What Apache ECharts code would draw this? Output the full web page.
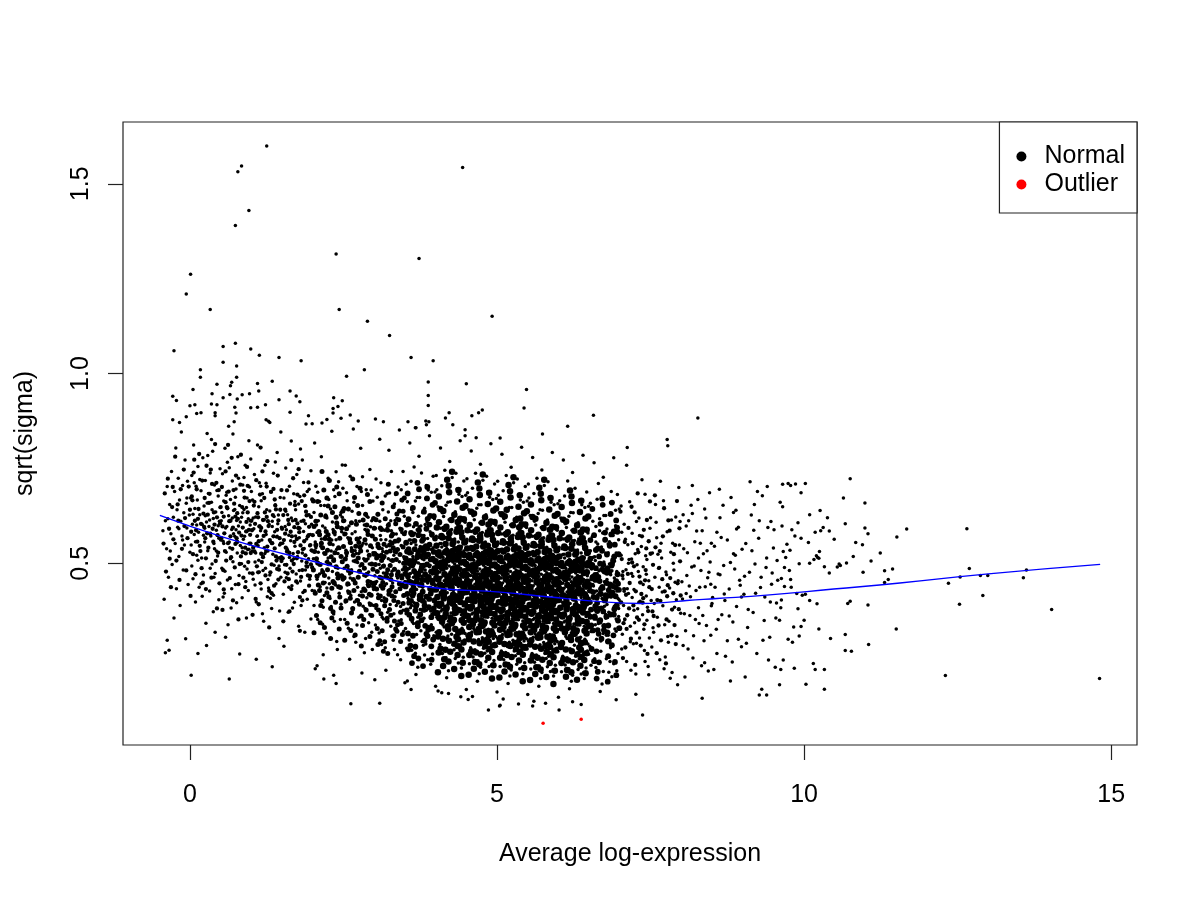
<!DOCTYPE html>
<html>
<head>
<meta charset="utf-8">
<script src="https://cdn.jsdelivr.net/npm/echarts@6/dist/echarts.min.js"></script>
<style>
html,body{margin:0;padding:0;background:#fff;}
#c{width:1200px;height:900px;}
</style>
</head>
<body>
<div id="c"></div>
<script>
// x tick labels / y tick labels
const xTicks = [0, 5, 10, 15];
const yTicks = [0.5, 1.0, 1.5];

// Normal points, flat [x, y, x, y, ...], by x band
const normalBinA = [-0.42,.405,-0.40,.612,-0.38,.538,-0.37,.702,-0.35,.463,-0.34,.271,-0.33,.655,-0.31,.578,-0.30,.742,-0.29,.497,-0.27,.621,-0.26,.356,-0.25,.689,-0.24,.552,-0.23,.804,-0.22,.433,-0.21,.641,-0.20,.595,-0.19,.724,-0.18,.518,-0.17,.667,-0.16,.389,-0.15,.611,-0.14,.846,-0.13,.572,-0.12,.705,-0.11,.482,-0.10,.633,-0.09,.548,-0.08,.772,-0.07,.301,-0.06,.658,-0.05,.593,-0.04,.716,-0.03,.444,-0.01,.627,0.00,.529,-0.44,.586,-0.36,.617,-0.32,.532,-0.18,.591,-0.12,.561,-0.05,.672];
const normalBinB = [0.01,.672,0.02,.548,0.03,.731,0.04,.603,0.05,.459,0.06,.812,0.07,.576,0.08,.644,0.09,.398,0.10,.703,0.11,.521,0.12,.667,0.13,.755,0.14,.582,0.15,.437,0.16,.628,0.18,.691,0.19,.514,0.20,.602,0.21,.778,0.22,.469,0.23,.651,0.24,.556,0.25,.718,0.26,.342,0.27,.609,0.28,.842,0.29,.533,0.30,.684,0.31,.597,0.32,.427,0.33,.738,0.34,.572,0.35,.661,0.36,.498,0.37,.795,0.38,.618,0.39,.552,0.40,.706,0.41,.473,0.42,.635,0.43,.587,0.45,.519,0.46,.677,0.47,.404,0.48,.611,0.49,.749,0.50,.561,0.03,.493,0.07,.712,0.11,.601,0.18,.446,0.22,.574,0.25,.625,0.29,.784,0.33,.487,0.36,.641,0.40,.538,0.44,.692,0.47,.566,0.05,.629,0.09,.557,0.13,.508,0.16,.721,0.2,.413,0.24,.592,0.28,.659,0.32,.614,0.35,.826,0.39,.463,0.43,.532,0.46,.599,0.49,.647,0.02,.205,0.27,.283,0.41,.318,0.38,.372];
const normalBinC = [0.51,.612,0.52,.487,0.53,.736,0.54,.558,0.55,.664,0.56,.421,0.57,.803,0.58,.593,0.59,.529,0.60,.687,0.61,.456,0.63,.625,0.64,.752,0.65,.541,0.66,.668,0.67,.382,0.68,.589,0.69,.717,0.70,.504,0.71,.639,0.72,.873,0.73,.571,0.74,.444,0.75,.696,0.76,.613,0.77,.527,0.78,.781,0.79,.598,0.80,.468,0.81,.652,0.82,.547,0.84,.621,0.85,.409,0.86,.706,0.87,.563,0.88,.642,0.89,.492,0.90,.758,0.91,.584,0.92,.356,0.93,.672,0.94,.536,0.95,.617,0.96,.823,0.97,.474,0.98,.601,0.99,.553,1.00,.689,0.52,.634,0.55,.552,0.57,.479,0.6,.597,0.63,.861,0.66,.512,0.68,.433,0.71,.578,0.74,.674,0.76,.396,0.79,.724,0.82,.609,0.84,.499,0.89,.571,0.92,.647,0.95,.428,0.97,.701,0.58,.305,0.64,.556,0.7,.841,0.75,.588,0.81,.261,0.86,.633,0.91,.452,0.96,.537,0.99,.775,0.54,.411,0.61,.766,0.69,.619,0.85,.541,0.93,.485,0.59,.679,0.73,.642,0.88,.726,0.98,.612,0.62,.338];
const normalBinD = [1.01,.532,1.02,.667,1.03,.458,1.04,.591,1.05,.734,1.06,.503,1.07,.622,1.08,.398,1.09,.571,1.10,.812,1.11,.546,1.12,.649,1.13,.477,1.14,.598,1.15,.703,1.16,.432,1.17,.561,1.18,.683,1.19,.519,1.20,.347,1.21,.615,1.22,.758,1.23,.487,1.24,.576,1.25,.641,1.26,.412,1.27,.532,1.28,.874,1.29,.602,1.30,.469,1.31,.557,1.32,.689,1.33,.381,1.34,.611,1.35,.524,1.36,.737,1.37,.495,1.38,.583,1.39,.654,1.40,.446,1.41,.569,1.42,.792,1.43,.514,1.44,.627,1.45,.302,1.46,.548,1.47,.673,1.48,.463,1.49,.595,1.03,.619,1.06,.443,1.12,.508,1.15,.586,1.18,.367,1.21,.541,1.24,.711,1.27,.457,1.3,.638,1.33,.552,1.36,.416,1.39,.767,1.42,.571,1.45,.493,1.48,.846,1.1,.572,1.16,.665,1.22,.526,1.28,.435,1.34,.597,1.46,.374,1.13,.712,1.37,.623,1.07,.527,1.19,.481,1.31,.408,1.43,.604,1.49,.517];
const normalBinE = [1.51,.553,1.52,.418,1.53,.672,1.54,.496,1.55,.597,1.56,.751,1.57,.462,1.58,.538,1.59,.628,1.60,.371,1.61,.574,1.62,.703,1.63,.487,1.64,.559,1.65,.822,1.66,.441,1.67,.612,1.68,.526,1.69,.683,1.70,.397,1.71,.545,1.72,.641,1.73,.472,1.74,.734,1.75,.518,1.76,.592,1.77,.334,1.78,.567,1.79,.676,1.80,.453,1.81,.611,1.82,.506,1.83,.772,1.84,.423,1.85,.584,1.86,.539,1.87,.651,1.88,.482,1.89,.867,1.90,.564,1.91,.405,1.92,.627,1.93,.512,1.94,.695,1.95,.458,1.96,.576,1.97,.353,1.98,.603,1.99,.532,1.53,.281,1.57,.588,1.61,.437,1.65,.619,1.69,.512,1.77,.656,1.81,.389,1.85,.713,1.89,.493,1.93,.575,1.97,.744,1.55,.476,1.59,.534,1.67,.382,1.71,.663,1.75,.448,1.79,.592,1.83,.527,1.87,.318,1.91,.689,1.95,.546,1.99,.428,1.56,.637,1.72,.572,1.8,.801,1.88,.604,1.96,.467,1.62,.515,1.78,.481,1.94,.628];
const normalBinF = [2.01,.512,2.02,.634,2.03,.427,2.04,.556,2.05,.703,2.06,.468,2.07,.581,2.08,.352,2.09,.612,2.10,.497,2.11,.663,2.12,.438,2.13,.545,2.14,.781,2.15,.483,2.16,.598,2.17,.384,2.18,.527,2.19,.652,2.20,.449,2.21,.571,2.22,.316,2.23,.619,2.24,.506,2.25,.724,2.26,.461,2.27,.553,2.28,.407,2.29,.643,2.30,.532,2.31,.848,2.32,.478,2.33,.589,2.34,.366,2.35,.511,2.36,.676,2.37,.443,2.38,.562,2.39,.294,2.40,.604,2.41,.487,2.42,.715,2.43,.421,2.44,.539,2.45,.627,2.46,.392,2.47,.518,2.48,.759,2.49,.456,2.02,.389,2.05,.541,2.08,.687,2.11,.472,2.14,.564,2.17,.259,2.2,.593,2.23,.435,2.26,.668,2.29,.498,2.32,.609,2.35,.347,2.38,.741,2.41,.526,2.44,.412,2.47,.583,2.03,.817,2.07,.458,2.12,.576,2.16,.339,2.21,.627,2.25,.514,2.3,.386,2.34,.694,2.39,.537,2.43,.467,2.48,.621,2.04,.222,2.13,.652,2.22,.503,2.31,.561,2.4,.273,2.49,.698,2.09,.529,2.27,.446,2.36,.575,2.45,.352,2.06,.601,2.19,.415,2.33,.549,2.46,.634];
const normalBinG = [2.51,.487,2.52,.612,2.53,.398,2.54,.534,2.55,.686,2.56,.443,2.57,.567,2.58,.329,2.59,.598,2.60,.472,2.61,.729,2.62,.415,2.63,.541,2.64,.637,2.65,.376,2.66,.506,2.67,.661,2.68,.454,2.69,.583,2.70,.292,2.71,.526,2.72,.702,2.73,.437,2.74,.562,2.75,.358,2.76,.611,2.77,.493,2.78,.803,2.79,.425,2.80,.547,2.81,.652,2.82,.387,2.83,.512,2.84,.264,2.85,.589,2.86,.466,2.87,.694,2.88,.409,2.89,.532,2.90,.621,2.91,.343,2.92,.498,2.93,.747,2.94,.452,2.95,.573,2.96,.318,2.97,.541,2.98,.664,2.99,.431,2.52,.352,2.55,.519,2.58,.643,2.61,.461,2.64,.578,2.67,.307,2.7,.612,2.73,.502,2.76,.416,2.79,.689,2.82,.553,2.85,.381,2.88,.624,2.91,.477,2.94,.596,2.97,.273,2.53,.758,2.57,.427,2.62,.553,2.66,.854,2.71,.403,2.75,.526,2.8,.211,2.84,.601,2.89,.444,2.93,.365,2.98,.528,2.54,.578,2.63,.483,2.72,.337,2.81,.728,2.9,.512,2.99,.389,2.56,.665,2.68,.398,2.77,.567,2.86,.302,2.95,.693,2.59,.444,2.74,.875,2.87,.551,2.6,.247,2.83,.468,2.96,.612,2.69,.533,2.92,.395];
const normalBinH = [3.01,.467,3.02,.592,3.03,.381,3.04,.523,3.05,.674,3.06,.418,3.07,.549,3.08,.316,3.09,.611,3.10,.487,3.11,.712,3.12,.402,3.13,.538,3.14,.641,3.15,.353,3.16,.495,3.17,.587,3.18,.277,3.19,.562,3.20,.446,3.21,.683,3.22,.371,3.23,.512,3.24,.605,3.25,.428,3.26,.558,3.27,.334,3.28,.742,3.29,.479,3.30,.573,3.31,.297,3.32,.521,3.33,.656,3.34,.412,3.35,.536,3.36,.389,3.37,.618,3.38,.461,3.39,.701,3.40,.348,3.41,.504,3.42,.592,3.43,.246,3.44,.547,3.45,.439,3.46,.665,3.47,.376,3.48,.517,3.49,.624,3.02,.337,3.04,.452,3.06,.628,3.08,.497,3.1,.573,3.12,.286,3.14,.531,3.16,.409,3.18,.677,3.2,.544,3.22,.463,3.24,.798,3.26,.391,3.28,.586,3.3,.448,3.32,.367,3.34,.613,3.36,.528,3.38,.259,3.4,.561,3.42,.432,3.44,.694,3.46,.483,3.48,.321,3.03,.722,3.07,.411,3.11,.562,3.15,.474,3.19,.218,3.23,.635,3.27,.508,3.31,.413,3.35,.681,3.39,.557,3.43,.386,3.47,.742,3.05,.543,3.13,.358,3.21,.592,3.29,.308,3.37,.466,3.45,.581,3.09,.827,3.25,.685,3.41,.851,3.17,.441,3.33,.273,3.49,.417,3.01,.193,3.27,.612,3.44,.351,3.12,.524,3.36,.577];
const normalBinI = [3.50,.452,3.51,.583,3.52,.367,3.53,.514,3.54,.662,3.55,.408,3.56,.536,3.57,.298,3.58,.601,3.59,.473,3.60,.716,3.61,.389,3.62,.527,3.63,.634,3.64,.341,3.65,.482,3.66,.579,3.67,.263,3.68,.548,3.69,.431,3.70,.673,3.71,.358,3.72,.501,3.73,.596,3.74,.417,3.75,.544,3.76,.322,3.77,.738,3.78,.466,3.79,.562,3.80,.284,3.81,.509,3.82,.645,3.83,.398,3.84,.523,3.85,.376,3.86,.609,3.87,.448,3.88,.693,3.89,.333,3.90,.491,3.91,.583,3.92,.234,3.93,.536,3.94,.427,3.95,.656,3.96,.364,3.97,.505,3.98,.617,3.99,.442,3.51,.328,3.53,.441,3.55,.617,3.57,.486,3.59,.561,3.61,.271,3.63,.518,3.65,.396,3.67,.664,3.69,.532,3.71,.451,3.73,.782,3.75,.378,3.77,.574,3.79,.437,3.81,.355,3.83,.602,3.85,.515,3.87,.246,3.89,.549,3.91,.421,3.93,.687,3.95,.472,3.97,.309,3.99,.566,3.52,.708,3.56,.404,3.6,.552,3.64,.463,3.68,.207,3.72,.624,3.76,.497,3.8,.402,3.84,.671,3.88,.546,3.92,.374,3.96,.729,3.54,.531,3.62,.346,3.7,.588,3.78,.294,3.86,.457,3.94,.572,3.58,.817,3.74,.673,3.9,.836,3.66,.429,3.82,.258,3.98,.405,3.5,.185,3.76,.598,3.93,.338,3.63,.511,3.87,.565,3.55,.472,3.59,.383,3.64,.596,3.69,.312,3.74,.478,3.79,.634,3.84,.287,3.89,.617,3.94,.366,3.99,.688,3.57,.561,3.67,.468,3.77,.409,3.87,.524,3.97,.452,3.61,.642,3.71,.226,3.81,.573,3.91,.495,3.53,.276,3.73,.359,3.83,.482,3.95,.261,3.65,.754,3.85,.705,3.6,.167,3.78,.512,3.96,.541];
const normalBinJ = [4.00,.443,4.01,.571,4.02,.358,4.03,.502,4.04,.649,4.05,.397,4.06,.527,4.07,.286,4.08,.592,4.09,.463,4.10,.704,4.11,.378,4.12,.516,4.13,.623,4.14,.332,4.15,.474,4.16,.568,4.17,.251,4.18,.539,4.19,.422,4.20,.661,4.21,.347,4.22,.493,4.23,.587,4.24,.408,4.25,.534,4.26,.313,4.27,.726,4.28,.457,4.29,.553,4.30,.272,4.31,.498,4.32,.636,4.33,.389,4.34,.514,4.35,.367,4.36,.598,4.37,.439,4.38,.682,4.39,.324,4.40,.481,4.41,.574,4.42,.224,4.43,.527,4.44,.418,4.45,.645,4.46,.355,4.47,.496,4.48,.608,4.49,.433,4.01,.318,4.03,.433,4.05,.606,4.07,.477,4.09,.552,4.11,.262,4.13,.509,4.15,.387,4.17,.653,4.19,.521,4.21,.443,4.23,.768,4.25,.369,4.27,.562,4.29,.428,4.31,.346,4.33,.593,4.35,.506,4.37,.237,4.39,.538,4.41,.412,4.43,.676,4.45,.463,4.47,.298,4.49,.557,4.02,.694,4.06,.395,4.1,.543,4.14,.454,4.18,.198,4.22,.615,4.26,.488,4.3,.393,4.34,.662,4.38,.537,4.42,.364,4.46,.717,4.04,.522,4.12,.337,4.2,.579,4.28,.285,4.36,.448,4.44,.563,4.08,.804,4.24,.662,4.4,.823,4.16,.419,4.32,.249,4.48,.396,4.0,.176,4.26,.589,4.43,.329,4.13,.502,4.37,.556,4.05,.463,4.09,.374,4.14,.587,4.19,.303,4.24,.469,4.29,.625,4.34,.278,4.39,.608,4.44,.357,4.49,.679,4.07,.552,4.17,.459,4.27,.401,4.37,.515,4.47,.443,4.11,.633,4.21,.217,4.31,.564,4.41,.486,4.03,.267,4.23,.351,4.33,.473,4.45,.252,4.15,.745,4.35,.696,4.1,.159,4.28,.503,4.46,.532,4.02,.481,4.06,.568,4.1,.421,4.15,.532,4.2,.391,4.25,.476,4.3,.541,4.35,.417,4.4,.503,4.45,.388,4.04,.413,4.18,.487,4.32,.452,4.46,.474,4.08,.356,4.22,.529,4.36,.382,4.42,.544,4.12,.594,4.26,.447,4.38,.612,4.48,.315,4.01,.731,4.2,.308,4.33,.737,4.47,.612];
const normalBinK = [4.50,.438,4.51,.563,4.52,.349,4.53,.494,4.54,.641,4.55,.388,4.56,.519,4.57,.277,4.58,.584,4.59,.455,4.60,.698,4.61,.369,4.62,.508,4.63,.615,4.64,.323,4.65,.466,4.66,.561,4.67,.242,4.68,.531,4.69,.414,4.70,.654,4.71,.338,4.72,.485,4.73,.579,4.74,.399,4.75,.526,4.76,.304,4.77,.719,4.78,.449,4.79,.545,4.80,.263,4.81,.489,4.82,.628,4.83,.381,4.84,.506,4.85,.358,4.86,.591,4.87,.431,4.88,.674,4.89,.315,4.90,.473,4.91,.566,4.92,.216,4.93,.519,4.94,.409,4.95,.637,4.96,.346,4.97,.488,4.98,.601,4.99,.425,4.51,.309,4.53,.424,4.55,.598,4.57,.468,4.59,.544,4.61,.253,4.63,.501,4.65,.378,4.67,.645,4.69,.513,4.71,.434,4.73,.761,4.75,.361,4.77,.554,4.79,.419,4.81,.337,4.83,.585,4.85,.497,4.87,.228,4.89,.529,4.91,.403,4.93,.668,4.95,.454,4.97,.289,4.99,.548,4.52,.686,4.56,.386,4.6,.535,4.64,.445,4.68,.189,4.72,.607,4.76,.479,4.8,.384,4.84,.654,4.88,.528,4.92,.355,4.96,.709,4.54,.513,4.62,.328,4.7,.571,4.78,.276,4.86,.439,4.94,.555,4.58,.796,4.74,.654,4.9,.815,4.66,.411,4.82,.241,4.98,.387,4.5,.167,4.76,.581,4.93,.321,4.63,.494,4.87,.548,4.55,.455,4.59,.366,4.64,.579,4.69,.295,4.74,.461,4.79,.617,4.84,.269,4.89,.601,4.94,.348,4.99,.671,4.57,.544,4.67,.451,4.77,.393,4.87,.507,4.97,.435,4.61,.625,4.71,.209,4.81,.556,4.91,.478,4.53,.259,4.73,.343,4.83,.465,4.95,.244,4.65,.737,4.85,.688,4.6,.149,4.78,.495,4.96,.524,4.52,.472,4.56,.559,4.6,.413,4.65,.524,4.7,.383,4.75,.468,4.8,.533,4.85,.409,4.9,.495,4.95,.381,4.54,.405,4.68,.479,4.82,.444,4.96,.466,4.58,.348,4.72,.521,4.86,.374,4.92,.536,4.62,.586,4.76,.439,4.88,.604,4.98,.307,4.51,.723,4.7,.299,4.83,.729,4.97,.604,4.53,.361,4.57,.418,4.62,.291,4.66,.353,4.71,.472,4.76,.331,4.81,.403,4.86,.326,4.91,.284,4.96,.417,4.55,.235,4.64,.272,4.73,.226,4.82,.298,4.91,.232,4.99,.281,4.59,.319,4.79,.364,4.94,.302,4.69,.243];
const normalBinL = [5.00,.431,5.01,.556,5.02,.341,5.03,.487,5.04,.633,5.05,.381,5.06,.512,5.07,.269,5.08,.577,5.09,.448,5.10,.691,5.11,.362,5.12,.501,5.13,.608,5.14,.316,5.15,.459,5.16,.554,5.17,.235,5.18,.524,5.19,.407,5.20,.647,5.21,.331,5.22,.478,5.23,.572,5.24,.392,5.25,.519,5.26,.297,5.27,.712,5.28,.442,5.29,.538,5.30,.256,5.31,.482,5.32,.621,5.33,.374,5.34,.499,5.35,.351,5.36,.584,5.37,.424,5.38,.667,5.39,.308,5.40,.466,5.41,.559,5.42,.209,5.43,.512,5.44,.402,5.45,.631,5.46,.339,5.47,.481,5.48,.594,5.49,.418,5.01,.302,5.03,.417,5.05,.591,5.07,.461,5.09,.537,5.11,.246,5.13,.494,5.15,.371,5.17,.638,5.19,.506,5.21,.427,5.23,.753,5.25,.354,5.27,.547,5.29,.412,5.31,.331,5.33,.578,5.35,.491,5.37,.222,5.39,.522,5.41,.396,5.43,.661,5.45,.447,5.47,.283,5.49,.541,5.02,.679,5.06,.379,5.1,.528,5.14,.438,5.18,.183,5.22,.601,5.26,.472,5.3,.377,5.34,.647,5.38,.521,5.42,.348,5.46,.702,5.04,.506,5.12,.321,5.2,.564,5.28,.269,5.36,.432,5.44,.548,5.08,.787,5.24,.647,5.4,.806,5.16,.404,5.32,.234,5.48,.381,5.0,.161,5.26,.574,5.43,.314,5.13,.487,5.37,.541,5.05,.448,5.09,.359,5.14,.572,5.19,.289,5.24,.454,5.29,.611,5.34,.262,5.39,.594,5.44,.342,5.49,.664,5.07,.537,5.17,.444,5.27,.386,5.37,.501,5.47,.428,5.11,.618,5.21,.203,5.31,.549,5.41,.471,5.03,.252,5.23,.336,5.33,.458,5.45,.238,5.15,.731,5.35,.681,5.1,.142,5.28,.488,5.46,.517,5.02,.465,5.06,.552,5.1,.406,5.15,.517,5.2,.376,5.25,.461,5.3,.526,5.35,.402,5.4,.488,5.45,.374,5.04,.398,5.18,.472,5.32,.437,5.46,.459,5.08,.341,5.22,.514,5.36,.367,5.42,.529,5.12,.579,5.26,.432,5.38,.597,5.48,.301,5.01,.716,5.2,.292,5.33,.722,5.47,.597,5.03,.354,5.07,.411,5.12,.284,5.16,.346,5.21,.465,5.26,.324,5.31,.396,5.36,.319,5.41,.277,5.46,.411,5.05,.228,5.14,.265,5.23,.219,5.32,.291,5.41,.226,5.49,.274,5.09,.312,5.29,.357,5.44,.295,5.19,.236,5.04,.429,5.11,.392,5.18,.351,5.25,.404,5.32,.369,5.39,.428,5.46,.386,5.06,.303,5.2,.441,5.34,.312,5.48,.453];
const normalBinM = [5.50,.424,5.51,.549,5.52,.334,5.53,.481,5.54,.626,5.55,.374,5.56,.505,5.57,.262,5.58,.571,5.59,.441,5.60,.684,5.61,.355,5.62,.494,5.63,.601,5.64,.309,5.65,.452,5.66,.547,5.67,.229,5.68,.517,5.69,.401,5.70,.641,5.71,.324,5.72,.471,5.73,.566,5.74,.385,5.75,.512,5.76,.291,5.77,.705,5.78,.435,5.79,.531,5.80,.249,5.81,.475,5.82,.614,5.83,.367,5.84,.492,5.85,.344,5.86,.577,5.87,.417,5.88,.661,5.89,.301,5.90,.459,5.91,.552,5.92,.203,5.93,.505,5.94,.395,5.95,.624,5.96,.332,5.97,.474,5.98,.587,5.99,.411,5.51,.295,5.53,.41,5.55,.584,5.57,.454,5.59,.531,5.61,.239,5.63,.487,5.65,.364,5.67,.631,5.69,.499,5.71,.421,5.73,.746,5.75,.347,5.77,.541,5.79,.405,5.81,.324,5.83,.571,5.85,.484,5.87,.215,5.89,.515,5.91,.389,5.93,.654,5.95,.441,5.97,.276,5.99,.534,5.52,.672,5.56,.372,5.6,.521,5.64,.431,5.68,.176,5.72,.594,5.76,.465,5.8,.371,5.84,.641,5.88,.514,5.92,.341,5.96,.695,5.54,.499,5.62,.314,5.7,.557,5.78,.262,5.86,.425,5.94,.541,5.58,.779,5.74,.64,5.9,.792,5.66,.397,5.82,.227,5.98,.374,5.5,.154,5.76,.567,5.93,.307,5.63,.48,5.87,.534,5.55,.441,5.59,.352,5.64,.565,5.69,.282,5.74,.447,5.79,.604,5.84,.255,5.89,.587,5.94,.335,5.99,.657,5.57,.53,5.67,.437,5.77,.379,5.87,.494,5.97,.421,5.61,.611,5.71,.196,5.81,.542,5.91,.464,5.53,.245,5.73,.329,5.83,.451,5.95,.231,5.65,.724,5.85,.674,5.6,.136,5.78,.481,5.96,.51,5.52,.458,5.56,.545,5.6,.399,5.65,.51,5.7,.369,5.75,.454,5.8,.519,5.85,.395,5.9,.481,5.95,.367,5.54,.391,5.68,.465,5.82,.43,5.96,.452,5.58,.334,5.72,.507,5.86,.36,5.92,.522,5.62,.572,5.76,.425,5.88,.59,5.98,.294,5.51,.709,5.7,.285,5.83,.715,5.97,.59,5.53,.347,5.57,.404,5.62,.277,5.66,.339,5.71,.458,5.76,.317,5.81,.389,5.86,.312,5.91,.27,5.96,.404,5.55,.221,5.64,.258,5.73,.212,5.82,.284,5.91,.219,5.99,.267,5.59,.305,5.79,.35,5.94,.288,5.69,.229,5.54,.422,5.61,.385,5.68,.344,5.75,.397,5.82,.362,5.89,.421,5.96,.379];
const normalBinN = [6.00,.417,6.01,.542,6.02,.327,6.03,.474,6.04,.619,6.05,.367,6.06,.498,6.07,.255,6.08,.564,6.09,.434,6.10,.677,6.11,.348,6.12,.487,6.13,.594,6.14,.302,6.15,.445,6.16,.54,6.17,.222,6.18,.51,6.19,.394,6.20,.634,6.21,.317,6.22,.464,6.23,.559,6.24,.378,6.25,.505,6.26,.284,6.27,.698,6.28,.428,6.29,.524,6.30,.242,6.31,.468,6.32,.607,6.33,.36,6.34,.485,6.35,.337,6.36,.57,6.37,.41,6.38,.654,6.39,.294,6.40,.452,6.41,.545,6.42,.196,6.43,.498,6.44,.388,6.45,.617,6.46,.325,6.47,.467,6.48,.58,6.49,.404,6.01,.288,6.03,.403,6.05,.577,6.07,.447,6.09,.524,6.11,.232,6.13,.48,6.15,.357,6.17,.624,6.19,.492,6.21,.414,6.23,.739,6.25,.34,6.27,.534,6.29,.398,6.31,.317,6.33,.564,6.35,.477,6.37,.208,6.39,.508,6.41,.382,6.43,.647,6.45,.434,6.47,.269,6.49,.527,6.02,.665,6.06,.365,6.1,.514,6.14,.424,6.18,.169,6.22,.587,6.26,.458,6.3,.364,6.34,.634,6.38,.507,6.42,.334,6.46,.688,6.04,.492,6.12,.307,6.2,.55,6.28,.255,6.36,.418,6.44,.534,6.08,.772,6.24,.633,6.4,.785,6.16,.39,6.32,.22,6.48,.367,6.0,.147,6.26,.56,6.43,.3,6.13,.473,6.37,.527,6.05,.434,6.09,.345,6.14,.558,6.19,.275,6.24,.44,6.29,.597,6.34,.248,6.39,.58,6.44,.328,6.49,.65,6.07,.523,6.17,.43,6.27,.372,6.37,.487,6.47,.414,6.11,.604,6.21,.189,6.31,.535,6.41,.457,6.03,.238,6.23,.322,6.33,.444,6.45,.224,6.15,.717,6.35,.667,6.28,.474,6.46,.503,6.02,.451,6.06,.538,6.1,.392,6.15,.503,6.2,.362,6.25,.447,6.3,.512,6.35,.388,6.4,.474,6.45,.36,6.04,.384,6.18,.458,6.32,.423,6.46,.445,6.08,.327,6.22,.5,6.36,.353,6.42,.515,6.12,.565,6.26,.418,6.38,.583,6.48,.287,6.03,.34,6.07,.397,6.12,.27,6.16,.332,6.21,.451,6.26,.31,6.31,.382,6.36,.305,6.41,.263,6.46,.397,6.05,.214,6.14,.251,6.23,.205,6.32,.277,6.41,.212,6.49,.26];
const normalBinO = [6.50,.408,6.52,.533,6.53,.32,6.54,.466,6.56,.611,6.57,.36,6.58,.49,6.59,.248,6.61,.556,6.62,.427,6.63,.669,6.65,.341,6.66,.48,6.67,.586,6.69,.295,6.70,.438,6.71,.532,6.73,.215,6.74,.503,6.75,.387,6.77,.626,6.78,.31,6.79,.457,6.81,.551,6.82,.371,6.83,.498,6.85,.277,6.86,.689,6.87,.421,6.89,.517,6.90,.235,6.91,.461,6.93,.599,6.94,.353,6.95,.478,6.97,.33,6.98,.562,6.99,.403,6.51,.281,6.53,.396,6.55,.57,6.57,.44,6.59,.517,6.61,.225,6.63,.473,6.65,.35,6.67,.617,6.69,.485,6.71,.407,6.73,.727,6.75,.333,6.77,.527,6.79,.391,6.81,.31,6.83,.557,6.85,.47,6.87,.201,6.89,.501,6.91,.375,6.93,.64,6.95,.427,6.97,.262,6.99,.52,6.52,.658,6.56,.358,6.6,.507,6.64,.417,6.68,.162,6.72,.58,6.76,.451,6.8,.357,6.84,.627,6.88,.5,6.92,.327,6.96,.681,6.54,.485,6.62,.3,6.7,.543,6.78,.248,6.86,.411,6.94,.527,6.58,.765,6.74,.626,6.9,.778,6.66,.383,6.82,.213,6.98,.36,6.55,.427,6.6,.338,6.64,.551,6.69,.268,6.74,.433,6.79,.59,6.84,.241,6.89,.573,6.94,.321,6.99,.643,6.57,.516,6.67,.423,6.77,.365,6.87,.48,6.97,.407,6.61,.597,6.71,.182,6.81,.528,6.91,.45,6.53,.231,6.73,.315,6.83,.437,6.95,.217,6.65,.71,6.85,.66,6.56,.444,6.63,.385,6.7,.497,6.77,.355,6.84,.44,6.91,.505,6.98,.381,6.59,.377,6.75,.451,6.92,.416];
const normalBinP = [7.01,.396,7.02,.521,7.04,.313,7.05,.459,7.07,.603,7.08,.353,7.10,.483,7.11,.241,7.13,.549,7.14,.42,7.16,.662,7.17,.334,7.19,.473,7.20,.579,7.22,.288,7.23,.431,7.25,.525,7.26,.208,7.28,.496,7.29,.38,7.31,.619,7.32,.303,7.34,.45,7.35,.544,7.37,.364,7.38,.491,7.40,.27,7.41,.682,7.43,.414,7.44,.51,7.46,.228,7.47,.454,7.49,.592,7.03,.274,7.06,.389,7.09,.563,7.12,.433,7.15,.51,7.18,.218,7.21,.466,7.24,.343,7.27,.61,7.3,.478,7.33,.4,7.36,.72,7.39,.326,7.42,.52,7.45,.384,7.48,.303,7.02,.651,7.08,.351,7.14,.5,7.2,.41,7.26,.155,7.32,.573,7.38,.444,7.44,.35,7.5,.62,7.05,.478,7.17,.293,7.29,.536,7.41,.241,7.11,.758,7.23,.376,7.47,.206,7.12,.805,7.07,.426,7.19,.511,7.31,.397,7.43,.471,7.03,.582,7.27,.289];
const normalBinQ = [7.51,.402,7.53,.527,7.55,.318,7.57,.463,7.59,.608,7.61,.358,7.63,.487,7.65,.246,7.67,.553,7.69,.424,7.71,.665,7.73,.338,7.75,.477,7.77,.583,7.79,.292,7.81,.435,7.83,.529,7.85,.212,7.87,.5,7.89,.384,7.91,.622,7.93,.307,7.95,.454,7.97,.548,7.99,.368,7.52,.279,7.56,.394,7.6,.567,7.64,.437,7.68,.514,7.72,.222,7.76,.47,7.8,.347,7.84,.614,7.88,.482,7.92,.404,7.96,.7,7.54,.33,7.62,.524,7.7,.388,7.78,.307,7.86,.553,7.94,.18,7.58,.655,7.74,.253,7.9,.45,7.77,.826,7.78,.81,7.66,.716,7.82,.197,7.98,.61];
const normalBinR = [8.02,.406,8.04,.538,8.07,.322,8.09,.468,8.12,.612,8.14,.362,8.17,.49,8.19,.25,8.22,.557,8.24,.428,8.27,.668,8.29,.341,8.32,.481,8.34,.586,8.37,.296,8.39,.438,8.42,.533,8.44,.216,8.47,.503,8.49,.388,8.03,.283,8.08,.598,8.13,.44,8.18,.705,8.23,.352,8.28,.514,8.33,.23,8.38,.643,8.43,.462,8.48,.31,8.06,.2,8.16,.653,8.36,.525,8.46,.686];
const normalBinS = [8.51,.41,8.54,.545,8.57,.326,8.6,.472,8.63,.62,8.66,.364,8.69,.494,8.72,.255,8.75,.561,8.78,.432,8.81,.673,8.84,.345,8.87,.485,8.9,.59,8.93,.3,8.96,.442,8.99,.537,8.53,.22,8.62,.695,8.71,.402,8.8,.19,8.89,.64,8.98,.28,8.58,.582,8.85,.525];
const normalBinT = [9.02,.418,9.05,.552,9.08,.331,9.11,.476,9.14,.627,9.17,.37,9.2,.498,9.23,.262,9.26,.566,9.29,.436,9.32,.678,9.35,.349,9.38,.489,9.41,.594,9.44,.305,9.47,.445,9.5,.54,9.53,.226,9.56,.507,9.04,.2,9.19,.655,9.31,.168,9.46,.61,9.12,.715,9.4,.702,9.55,.395];
const normalExtraA = [-0.43,.552,-0.41,.684,-0.39,.478,-0.36,.723,-0.34,.591,-0.31,.437,-0.29,.648,-0.27,.563,-0.24,.781,-0.22,.507,-0.19,.612,-0.17,.456,-0.15,.695,-0.13,.538,-0.1,.747,-0.08,.619,-0.06,.481,-0.04,.566,-0.02,.702,0.0,.641,-0.33,.512,-0.2,.655,-0.09,.598,-0.28,.701,0.02,.583,0.03,.676,0.05,.524,0.06,.739,0.08,.612,0.09,.471,0.11,.695,0.12,.557,0.14,.643,0.15,.788,0.17,.532,0.18,.604,0.2,.718,0.21,.449,0.23,.596,0.24,.672,0.26,.513,0.27,.757,0.29,.628,0.3,.541,0.32,.683,0.33,.578,0.35,.462,0.36,.709,0.38,.557,0.39,.634,0.41,.814,0.42,.506,0.44,.621,0.45,.574,0.47,.693,0.48,.447,0.5,.648,0.04,.666,0.1,.587,0.16,.546,0.22,.631,0.28,.579,0.34,.747,0.4,.602,0.46,.528,0.07,.773,0.19,.487,0.31,.659,0.43,.712,0.13,.617,0.25,.566,0.37,.591,0.49,.605,0.01,.414,0.26,.432,0.44,.381];
const normalExtraB = [0.51,.566,0.52,.701,0.54,.482,0.55,.623,0.56,.579,0.58,.742,0.59,.507,0.61,.645,0.62,.553,0.63,.689,0.65,.461,0.66,.612,0.68,.778,0.69,.538,0.7,.594,0.72,.657,0.73,.489,0.75,.731,0.76,.566,0.77,.632,0.79,.445,0.8,.581,0.82,.707,0.83,.518,0.85,.648,0.86,.594,0.87,.462,0.89,.673,0.9,.541,0.92,.609,0.93,.754,0.95,.503,0.96,.588,0.97,.664,0.99,.527,1.0,.612,0.53,.597,0.57,.532,0.6,.648,0.64,.611,0.67,.516,0.71,.693,0.74,.551,0.78,.617,0.81,.498,0.84,.573,0.88,.691,0.91,.526,0.94,.634,0.98,.575,0.55,.431,0.62,.812,0.7,.402,0.77,.556,0.83,.786,0.9,.437,0.97,.552,0.58,.661,0.66,.571,0.74,.623,0.86,.529,0.94,.704,0.53,.377,0.79,.352,0.92,.584];
const normalExtraC = [1.01,.587,1.02,.473,1.04,.652,1.05,.531,1.06,.604,1.08,.719,1.09,.492,1.11,.621,1.12,.558,1.14,.681,1.15,.447,1.16,.593,1.18,.742,1.19,.516,1.2,.572,1.22,.634,1.23,.468,1.25,.702,1.26,.544,1.27,.611,1.29,.427,1.3,.561,1.32,.688,1.33,.497,1.35,.627,1.36,.571,1.37,.441,1.39,.652,1.4,.518,1.42,.588,1.43,.731,1.45,.483,1.46,.566,1.47,.641,1.49,.506,1.5,.591,1.03,.541,1.07,.406,1.1,.632,1.13,.597,1.17,.503,1.21,.672,1.24,.532,1.28,.598,1.31,.476,1.34,.553,1.38,.668,1.41,.507,1.44,.613,1.48,.552,1.05,.662,1.12,.392,1.19,.614,1.26,.769,1.33,.421,1.4,.642,1.47,.514,1.08,.551,1.16,.525,1.23,.584,1.36,.696,1.44,.457,1.02,.364,1.29,.331,1.42,.485,1.15,.805,1.38,.539,1.11,.476,1.25,.622,1.49,.693];
const normalExtraD = [1.51,.513,1.52,.627,1.54,.452,1.55,.578,1.56,.541,1.58,.692,1.59,.473,1.61,.603,1.62,.527,1.63,.657,1.65,.432,1.66,.571,1.68,.724,1.69,.498,1.7,.556,1.72,.614,1.73,.452,1.75,.681,1.76,.529,1.77,.593,1.79,.411,1.8,.547,1.82,.664,1.83,.482,1.85,.612,1.86,.558,1.87,.427,1.89,.636,1.9,.502,1.92,.571,1.93,.713,1.95,.466,1.96,.548,1.97,.622,1.99,.489,2.0,.574,1.53,.561,1.57,.496,1.6,.614,1.64,.583,1.67,.478,1.71,.653,1.74,.513,1.78,.582,1.81,.464,1.84,.537,1.88,.651,1.91,.491,1.94,.596,1.98,.534,1.55,.641,1.62,.373,1.7,.595,1.77,.748,1.83,.402,1.9,.626,1.97,.497,1.58,.531,1.66,.507,1.74,.564,1.86,.679,1.94,.441,1.52,.347,1.79,.322,1.92,.468,1.65,.772,1.88,.521,1.61,.458,1.75,.605,1.99,.668];
const normalExtraE = [2.01,.482,2.02,.597,2.04,.421,2.05,.548,2.06,.512,2.08,.663,2.09,.443,2.11,.575,2.12,.497,2.13,.627,2.15,.401,2.16,.541,2.18,.693,2.19,.468,2.2,.526,2.22,.584,2.23,.422,2.25,.651,2.26,.499,2.27,.563,2.29,.381,2.3,.517,2.32,.634,2.33,.452,2.35,.582,2.36,.528,2.37,.397,2.39,.606,2.4,.472,2.42,.541,2.43,.683,2.45,.436,2.46,.518,2.47,.592,2.49,.459,2.5,.544,2.03,.531,2.07,.466,2.1,.584,2.14,.553,2.17,.448,2.21,.623,2.24,.483,2.28,.552,2.31,.434,2.34,.507,2.38,.621,2.41,.461,2.44,.566,2.48,.504,2.05,.611,2.12,.343,2.2,.565,2.27,.718,2.33,.372,2.4,.596,2.47,.467,2.08,.501,2.16,.477,2.24,.534,2.36,.649,2.44,.411,2.02,.317,2.29,.302,2.42,.438,2.15,.742,2.38,.491,2.11,.428,2.25,.575,2.49,.638,2.06,.362,2.19,.331,2.31,.356,2.43,.327,2.13,.389,2.26,.412,2.35,.448,2.46,.382,2.01,.664,2.23,.672,2.39,.701,2.5,.612];
const normalExtraF = [2.51,.462,2.52,.577,2.54,.401,2.55,.528,2.56,.492,2.58,.643,2.59,.423,2.61,.555,2.62,.477,2.63,.607,2.65,.381,2.66,.521,2.68,.673,2.69,.448,2.7,.506,2.72,.564,2.73,.402,2.75,.631,2.76,.479,2.77,.543,2.79,.361,2.8,.497,2.82,.614,2.83,.432,2.85,.562,2.86,.508,2.87,.377,2.89,.586,2.9,.452,2.92,.521,2.93,.663,2.95,.416,2.96,.498,2.97,.572,2.99,.439,3.0,.524,2.53,.511,2.57,.446,2.6,.564,2.64,.533,2.67,.428,2.71,.603,2.74,.463,2.78,.532,2.81,.414,2.84,.487,2.88,.601,2.91,.441,2.94,.546,2.98,.484,2.55,.591,2.62,.323,2.7,.545,2.77,.698,2.83,.352,2.9,.576,2.97,.447,2.58,.481,2.66,.457,2.74,.514,2.86,.629,2.94,.391,2.52,.297,2.79,.282,2.92,.418,2.65,.722,2.88,.471,2.61,.408,2.75,.555,2.99,.618,2.56,.342,2.69,.311,2.81,.336,2.93,.307,2.63,.369,2.76,.392,2.85,.428,2.96,.362,2.51,.644,2.73,.652,2.89,.681,3.0,.592];
const normalExtraG = [3.01,.448,3.02,.563,3.03,.389,3.04,.514,3.05,.478,3.06,.629,3.07,.409,3.08,.541,3.09,.463,3.1,.593,3.11,.367,3.12,.507,3.13,.659,3.14,.434,3.15,.492,3.16,.55,3.17,.388,3.18,.617,3.19,.465,3.2,.529,3.21,.347,3.22,.483,3.23,.6,3.24,.418,3.25,.548,3.26,.494,3.27,.363,3.28,.572,3.29,.438,3.3,.507,3.31,.649,3.32,.402,3.33,.484,3.34,.558,3.35,.425,3.36,.51,3.37,.321,3.38,.536,3.39,.397,3.4,.615,3.41,.446,3.42,.523,3.43,.371,3.44,.589,3.45,.461,3.46,.312,3.47,.543,3.48,.415,3.49,.672,3.5,.489,3.02,.497,3.04,.432,3.06,.55,3.08,.519,3.1,.414,3.12,.589,3.14,.449,3.16,.518,3.18,.4,3.2,.473,3.22,.587,3.24,.427,3.26,.532,3.28,.47,3.3,.577,3.32,.309,3.34,.531,3.36,.684,3.38,.338,3.4,.562,3.42,.433,3.44,.467,3.46,.443,3.48,.5,3.03,.615,3.07,.377,3.11,.441,3.15,.268,3.19,.404,3.23,.708,3.27,.457,3.31,.541,3.35,.604,3.39,.477,3.43,.294,3.47,.637,3.05,.328,3.09,.296,3.13,.322,3.17,.293,3.21,.355,3.25,.378,3.29,.414,3.33,.348,3.37,.63,3.41,.638,3.45,.667,3.49,.578,3.01,.526,3.14,.514,3.26,.429,3.38,.471,3.47,.394,3.06,.286,3.22,.262,3.35,.327,3.44,.341,3.12,.461,3.29,.553];
const normalExtraH = [3.51,.439,3.52,.554,3.53,.376,3.54,.501,3.55,.465,3.56,.616,3.57,.396,3.58,.528,3.59,.45,3.6,.58,3.61,.354,3.62,.494,3.63,.646,3.64,.421,3.65,.479,3.66,.537,3.67,.375,3.68,.604,3.69,.452,3.7,.516,3.71,.334,3.72,.47,3.73,.587,3.74,.405,3.75,.535,3.76,.481,3.77,.35,3.78,.559,3.79,.425,3.8,.494,3.81,.636,3.82,.389,3.83,.471,3.84,.545,3.85,.412,3.86,.497,3.87,.308,3.88,.523,3.89,.384,3.9,.602,3.91,.433,3.92,.51,3.93,.358,3.94,.576,3.95,.448,3.96,.299,3.97,.53,3.98,.402,3.99,.659,4.0,.476,3.52,.484,3.54,.419,3.56,.537,3.58,.506,3.6,.401,3.62,.576,3.64,.436,3.66,.505,3.68,.387,3.7,.46,3.72,.574,3.74,.414,3.76,.519,3.78,.457,3.8,.564,3.82,.296,3.84,.518,3.86,.671,3.88,.325,3.9,.549,3.92,.42,3.94,.454,3.96,.43,3.98,.487,3.53,.602,3.57,.364,3.61,.428,3.65,.255,3.69,.391,3.73,.695,3.77,.444,3.81,.528,3.85,.591,3.89,.464,3.93,.281,3.97,.624,3.55,.315,3.59,.283,3.63,.309,3.67,.28,3.71,.342,3.75,.365,3.79,.401,3.83,.335,3.87,.617,3.91,.625,3.95,.654,3.99,.565,3.51,.513,3.64,.501,3.76,.416,3.88,.458,3.97,.381,3.56,.273,3.72,.249,3.85,.314,3.94,.328,3.62,.448,3.79,.54,3.505,.472,3.535,.531,3.565,.452,3.595,.497,3.625,.415,3.655,.559,3.685,.473,3.715,.524,3.745,.443,3.775,.489,3.805,.377,3.835,.456,3.865,.539,3.895,.406,3.925,.478,3.955,.512,3.985,.37,3.545,.684,3.705,.712,3.865,.701,3.615,.237,3.795,.229,3.935,.246];
const normalExtraI = [4.005,.431,4.015,.546,4.025,.368,4.035,.493,4.045,.457,4.055,.608,4.065,.388,4.075,.52,4.085,.442,4.095,.572,4.105,.346,4.115,.486,4.125,.638,4.135,.413,4.145,.471,4.155,.529,4.165,.367,4.175,.596,4.185,.444,4.195,.508,4.205,.326,4.215,.462,4.225,.579,4.235,.397,4.245,.527,4.255,.473,4.265,.342,4.275,.551,4.285,.417,4.295,.486,4.305,.628,4.315,.381,4.325,.463,4.335,.537,4.345,.404,4.355,.489,4.365,.3,4.375,.515,4.385,.376,4.395,.594,4.405,.425,4.415,.502,4.425,.35,4.435,.568,4.445,.44,4.455,.291,4.465,.522,4.475,.394,4.485,.651,4.495,.468,4.01,.476,4.03,.411,4.05,.529,4.07,.498,4.09,.393,4.11,.568,4.13,.428,4.15,.497,4.17,.379,4.19,.452,4.21,.566,4.23,.406,4.25,.511,4.27,.449,4.29,.556,4.31,.288,4.33,.51,4.35,.663,4.37,.317,4.39,.541,4.41,.412,4.43,.446,4.45,.422,4.47,.479,4.02,.594,4.06,.356,4.1,.42,4.14,.247,4.18,.383,4.22,.687,4.26,.436,4.3,.52,4.34,.583,4.38,.456,4.42,.273,4.46,.616,4.04,.307,4.08,.275,4.12,.301,4.16,.272,4.2,.334,4.24,.357,4.28,.393,4.32,.327,4.36,.609,4.4,.617,4.44,.646,4.48,.557,4.0,.505,4.13,.493,4.25,.408,4.37,.45,4.46,.373,4.05,.265,4.21,.241,4.34,.306,4.43,.32,4.11,.44,4.28,.532,4.012,.461,4.042,.523,4.072,.444,4.102,.489,4.132,.407,4.162,.551,4.192,.465,4.222,.516,4.252,.435,4.282,.481,4.312,.369,4.342,.448,4.372,.531,4.402,.398,4.432,.47,4.462,.504,4.492,.362,4.052,.676,4.212,.704,4.372,.693,4.122,.229,4.302,.221,4.442,.238,4.018,.392,4.058,.318,4.098,.502,4.138,.357,4.178,.532,4.218,.296,4.258,.614,4.298,.351,4.338,.477,4.378,.281,4.418,.582,4.458,.343,4.488,.426,4.078,.643,4.238,.267,4.398,.526,4.148,.591,4.318,.412,4.468,.555,4.188,.72,4.358,.258,4.038,.213,4.268,.741,4.418,.203];
const normalExtraJ = [4.505,.424,4.515,.539,4.525,.361,4.535,.486,4.545,.45,4.555,.601,4.565,.381,4.575,.513,4.585,.435,4.595,.565,4.605,.339,4.615,.479,4.625,.631,4.635,.406,4.645,.464,4.655,.522,4.665,.36,4.675,.589,4.685,.437,4.695,.501,4.705,.319,4.715,.455,4.725,.572,4.735,.39,4.745,.52,4.755,.466,4.765,.335,4.775,.544,4.785,.41,4.795,.479,4.805,.621,4.815,.374,4.825,.456,4.835,.53,4.845,.397,4.855,.482,4.865,.293,4.875,.508,4.885,.369,4.895,.587,4.905,.418,4.915,.495,4.925,.343,4.935,.561,4.945,.433,4.955,.284,4.965,.515,4.975,.387,4.985,.644,4.995,.461,4.51,.469,4.53,.404,4.55,.522,4.57,.491,4.59,.386,4.61,.561,4.63,.421,4.65,.49,4.67,.372,4.69,.445,4.71,.559,4.73,.399,4.75,.504,4.77,.442,4.79,.549,4.81,.281,4.83,.503,4.85,.656,4.87,.31,4.89,.534,4.91,.405,4.93,.439,4.95,.415,4.97,.472,4.52,.587,4.56,.349,4.6,.413,4.64,.24,4.68,.376,4.72,.68,4.76,.429,4.8,.513,4.84,.576,4.88,.449,4.92,.266,4.96,.609,4.54,.3,4.58,.268,4.62,.294,4.66,.265,4.7,.327,4.74,.35,4.78,.386,4.82,.32,4.86,.602,4.9,.61,4.94,.639,4.98,.55,4.5,.498,4.63,.486,4.75,.401,4.87,.443,4.96,.366,4.55,.258,4.71,.234,4.84,.299,4.93,.313,4.61,.433,4.78,.525,4.512,.454,4.542,.516,4.572,.437,4.602,.482,4.632,.4,4.662,.544,4.692,.458,4.722,.509,4.752,.428,4.782,.474,4.812,.362,4.842,.441,4.872,.524,4.902,.391,4.932,.463,4.962,.497,4.992,.355,4.552,.669,4.712,.697,4.872,.686,4.622,.222,4.802,.214,4.942,.231,4.518,.385,4.558,.311,4.598,.495,4.638,.35,4.678,.525,4.718,.289,4.758,.607,4.798,.344,4.838,.47,4.878,.274,4.918,.575,4.958,.336,4.988,.419,4.578,.636,4.738,.26,4.898,.519,4.648,.584,4.818,.405,4.968,.548,4.688,.713,4.858,.251,4.538,.206,4.768,.734,4.918,.196,4.528,.447,4.588,.402,4.648,.468,4.708,.413,4.768,.371,4.828,.418,4.888,.382,4.948,.459,4.548,.332,4.668,.318,4.788,.296,4.908,.321,4.608,.538,4.728,.564,4.848,.546,4.968,.528];
const normalExtraK = [5.005,.417,5.015,.532,5.025,.354,5.035,.479,5.045,.443,5.055,.594,5.065,.374,5.075,.506,5.085,.428,5.095,.558,5.105,.332,5.115,.472,5.125,.624,5.135,.399,5.145,.457,5.155,.515,5.165,.353,5.175,.582,5.185,.43,5.195,.494,5.205,.312,5.215,.448,5.225,.565,5.235,.383,5.245,.513,5.255,.459,5.265,.328,5.275,.537,5.285,.403,5.295,.472,5.305,.614,5.315,.367,5.325,.449,5.335,.523,5.345,.39,5.355,.475,5.365,.286,5.375,.501,5.385,.362,5.395,.58,5.405,.411,5.415,.488,5.425,.336,5.435,.554,5.445,.426,5.455,.277,5.465,.508,5.475,.38,5.485,.637,5.495,.454,5.01,.462,5.03,.397,5.05,.515,5.07,.484,5.09,.379,5.11,.554,5.13,.414,5.15,.483,5.17,.365,5.19,.438,5.21,.552,5.23,.392,5.25,.497,5.27,.435,5.29,.542,5.31,.274,5.33,.496,5.35,.649,5.37,.303,5.39,.527,5.41,.398,5.43,.432,5.45,.408,5.47,.465,5.02,.58,5.06,.342,5.1,.406,5.14,.233,5.18,.369,5.22,.673,5.26,.422,5.3,.506,5.34,.569,5.38,.442,5.42,.259,5.46,.602,5.04,.293,5.08,.261,5.12,.287,5.16,.258,5.2,.32,5.24,.343,5.28,.379,5.32,.313,5.36,.595,5.4,.603,5.44,.632,5.48,.543,5.0,.491,5.13,.479,5.25,.394,5.37,.436,5.46,.359,5.05,.251,5.21,.227,5.34,.292,5.43,.306,5.11,.426,5.28,.518,5.012,.447,5.042,.509,5.072,.43,5.102,.475,5.132,.393,5.162,.537,5.192,.451,5.222,.502,5.252,.421,5.282,.467,5.312,.355,5.342,.434,5.372,.517,5.402,.384,5.432,.456,5.462,.49,5.492,.348,5.052,.662,5.212,.69,5.372,.679,5.122,.215,5.302,.207,5.442,.224,5.018,.378,5.058,.304,5.098,.488,5.138,.343,5.178,.518,5.218,.282,5.258,.6,5.298,.337,5.338,.463,5.378,.267,5.418,.568,5.458,.329,5.488,.412,5.078,.629,5.238,.253,5.398,.512,5.148,.577,5.318,.398,5.468,.541,5.188,.706,5.358,.244,5.038,.199,5.268,.727,5.418,.189,5.028,.44,5.088,.395,5.148,.461,5.208,.406,5.268,.364,5.328,.411,5.388,.375,5.448,.452,5.048,.325,5.168,.311,5.288,.289,5.408,.314,5.108,.531,5.228,.557,5.348,.539,5.468,.521,5.068,.358,5.188,.284,5.308,.442,5.428,.279,5.158,.641,5.378,.618];
const normalExtraL = [5.505,.41,5.515,.525,5.525,.347,5.535,.472,5.545,.436,5.555,.587,5.565,.367,5.575,.499,5.585,.421,5.595,.551,5.605,.325,5.615,.465,5.625,.617,5.635,.392,5.645,.45,5.655,.508,5.665,.346,5.675,.575,5.685,.423,5.695,.487,5.705,.305,5.715,.441,5.725,.558,5.735,.376,5.745,.506,5.755,.452,5.765,.321,5.775,.53,5.785,.396,5.795,.465,5.805,.607,5.815,.36,5.825,.442,5.835,.516,5.845,.383,5.855,.468,5.865,.279,5.875,.494,5.885,.355,5.895,.573,5.905,.404,5.915,.481,5.925,.329,5.935,.547,5.945,.419,5.955,.27,5.965,.501,5.975,.373,5.985,.63,5.995,.447,5.51,.455,5.53,.39,5.55,.508,5.57,.477,5.59,.372,5.61,.547,5.63,.407,5.65,.476,5.67,.358,5.69,.431,5.71,.545,5.73,.385,5.75,.49,5.77,.428,5.79,.535,5.81,.267,5.83,.489,5.85,.642,5.87,.296,5.89,.52,5.91,.391,5.93,.425,5.95,.401,5.97,.458,5.52,.573,5.56,.335,5.6,.399,5.64,.226,5.68,.362,5.72,.666,5.76,.415,5.8,.499,5.84,.562,5.88,.435,5.92,.252,5.96,.595,5.54,.286,5.58,.254,5.62,.28,5.66,.251,5.7,.313,5.74,.336,5.78,.372,5.82,.306,5.86,.588,5.9,.596,5.94,.625,5.98,.536,5.5,.484,5.63,.472,5.75,.387,5.87,.429,5.96,.352,5.55,.244,5.71,.22,5.84,.285,5.93,.299,5.61,.419,5.78,.511,5.512,.44,5.542,.502,5.572,.423,5.602,.468,5.632,.386,5.662,.53,5.692,.444,5.722,.495,5.752,.414,5.782,.46,5.812,.348,5.842,.427,5.872,.51,5.902,.377,5.932,.449,5.962,.483,5.992,.341,5.552,.655,5.712,.683,5.872,.672,5.622,.208,5.802,.2,5.942,.217,5.518,.371,5.558,.297,5.598,.481,5.638,.336,5.678,.511,5.718,.275,5.758,.593,5.798,.33,5.838,.456,5.878,.26,5.918,.561,5.958,.322,5.988,.405,5.578,.622,5.738,.246,5.898,.505,5.648,.57,5.818,.391,5.968,.534,5.688,.699,5.858,.237,5.538,.192,5.768,.72,5.918,.182,5.528,.433,5.588,.388,5.648,.454,5.708,.399,5.768,.357,5.828,.404,5.888,.368,5.948,.445,5.548,.318,5.668,.304,5.788,.282,5.908,.307,5.608,.524,5.728,.55,5.848,.532,5.968,.514];
const normalExtraM = [6.005,.403,6.015,.518,6.025,.34,6.035,.465,6.045,.429,6.055,.58,6.065,.36,6.075,.492,6.085,.414,6.095,.544,6.105,.318,6.115,.458,6.125,.61,6.135,.385,6.145,.443,6.155,.501,6.165,.339,6.175,.568,6.185,.416,6.195,.48,6.205,.298,6.215,.434,6.225,.551,6.235,.369,6.245,.499,6.255,.445,6.265,.314,6.275,.523,6.285,.389,6.295,.458,6.305,.6,6.315,.353,6.325,.435,6.335,.509,6.345,.376,6.355,.461,6.365,.272,6.375,.487,6.385,.348,6.395,.566,6.405,.397,6.415,.474,6.425,.322,6.435,.54,6.445,.412,6.455,.263,6.465,.494,6.475,.366,6.485,.623,6.495,.44,6.01,.448,6.03,.383,6.05,.501,6.07,.47,6.09,.365,6.11,.54,6.13,.4,6.15,.469,6.17,.351,6.19,.424,6.21,.538,6.23,.378,6.25,.483,6.27,.421,6.29,.528,6.31,.26,6.33,.482,6.35,.635,6.37,.289,6.39,.513,6.41,.384,6.43,.418,6.45,.394,6.47,.451,6.02,.566,6.06,.328,6.1,.392,6.14,.219,6.18,.355,6.22,.659,6.26,.408,6.3,.492,6.34,.555,6.38,.428,6.42,.245,6.46,.588,6.04,.279,6.08,.247,6.12,.273,6.16,.244,6.2,.306,6.24,.329,6.28,.365,6.32,.299,6.36,.581,6.4,.589,6.44,.618,6.48,.529,6.0,.477,6.13,.465,6.25,.38,6.37,.422,6.46,.345,6.05,.237,6.21,.213,6.34,.278,6.43,.292,6.11,.412,6.28,.504,6.012,.433,6.042,.495,6.072,.416,6.102,.461,6.132,.379,6.162,.523,6.192,.437,6.222,.488,6.252,.407,6.282,.453,6.312,.341,6.342,.42,6.372,.503,6.402,.37,6.432,.442,6.462,.476,6.492,.334,6.052,.648,6.212,.676,6.372,.665,6.122,.201,6.302,.193,6.442,.21,6.018,.364,6.058,.29,6.098,.474,6.138,.329,6.178,.504,6.218,.268,6.258,.586,6.298,.323,6.338,.449,6.378,.253,6.418,.554,6.458,.315,6.488,.398,6.078,.615,6.238,.239,6.398,.498,6.148,.563,6.318,.384,6.468,.527,6.188,.692,6.358,.23];
const normalExtraN = [6.505,.398,6.52,.512,6.535,.336,6.55,.46,6.565,.424,6.58,.574,6.595,.356,6.61,.487,6.625,.41,6.64,.539,6.655,.314,6.67,.453,6.685,.604,6.7,.381,6.715,.438,6.73,.496,6.745,.335,6.76,.562,6.775,.411,6.79,.475,6.805,.294,6.82,.429,6.835,.546,6.85,.365,6.865,.494,6.88,.44,6.895,.31,6.91,.518,6.925,.384,6.94,.453,6.955,.594,6.97,.349,6.985,.43,6.5,.503,6.51,.443,6.53,.378,6.55,.496,6.57,.465,6.59,.36,6.61,.535,6.63,.395,6.65,.464,6.67,.346,6.69,.419,6.71,.533,6.73,.373,6.75,.478,6.77,.416,6.79,.523,6.81,.255,6.83,.477,6.85,.63,6.87,.284,6.89,.508,6.91,.379,6.93,.413,6.95,.389,6.97,.446,6.52,.561,6.56,.323,6.6,.387,6.64,.214,6.68,.35,6.72,.654,6.76,.403,6.8,.487,6.84,.55,6.88,.423,6.92,.24,6.96,.583,6.54,.274,6.58,.242,6.62,.268,6.66,.239,6.7,.301,6.74,.324,6.78,.36,6.82,.294,6.86,.576,6.9,.584,6.94,.613,6.98,.524,6.512,.428,6.542,.49,6.572,.411,6.602,.456,6.632,.374,6.662,.518,6.692,.432,6.722,.483,6.752,.402,6.782,.448,6.812,.336,6.842,.415,6.872,.498,6.902,.365,6.932,.437,6.962,.471,6.992,.329,6.552,.643,6.712,.671,6.872,.66,6.622,.196,6.802,.188,6.942,.205,6.518,.359,6.598,.469,6.678,.499,6.758,.581,6.838,.444,6.918,.549,6.638,.324,6.798,.318];
const normalExtraO = [7.02,.397,7.04,.468,7.06,.342,7.08,.556,7.1,.417,7.12,.363,7.14,.593,7.16,.448,7.18,.301,7.2,.502,7.22,.389,7.24,.634,7.26,.426,7.28,.357,7.3,.529,7.32,.465,7.34,.283,7.36,.571,7.38,.408,7.4,.339,7.42,.482,7.44,.614,7.46,.374,7.48,.437,7.5,.525,7.03,.511,7.09,.278,7.15,.381,7.21,.553,7.27,.317,7.33,.449,7.39,.588,7.45,.261,7.01,.636,7.13,.472,7.25,.232,7.37,.396,7.49,.663,7.07,.432,7.19,.649,7.31,.351,7.43,.539,7.11,.327,7.23,.492,7.35,.419,7.47,.558,7.05,.25,7.29,.684,7.41,.455,7.52,.432,7.55,.361,7.58,.542,7.61,.403,7.64,.488,7.67,.297,7.7,.571,7.73,.426,7.76,.352,7.79,.613,7.82,.461,7.85,.378,7.88,.524,7.91,.287,7.94,.447,7.97,.592,7.99,.415,7.54,.496,7.6,.263,7.66,.401,7.72,.645,7.78,.442,7.84,.31,7.9,.548,7.96,.379,7.57,.679,7.63,.336,7.69,.458,7.75,.236,7.81,.586,7.87,.421,7.93,.664,7.53,.373,7.65,.532,7.77,.413,7.89,.337,7.98,.505];
const normalExtraP = [8.01,.451,8.05,.367,8.1,.528,8.15,.412,8.2,.309,8.25,.585,8.3,.437,8.35,.362,8.4,.619,8.45,.476,8.5,.394,8.03,.628,8.11,.274,8.21,.493,8.31,.553,8.41,.336,8.49,.553,8.08,.42,8.18,.631,8.28,.383,8.38,.238,8.48,.445,8.55,.437,8.6,.352,8.65,.568,8.7,.419,8.75,.296,8.8,.502,8.85,.634,8.9,.386,8.95,.455,8.58,.262,8.68,.653,8.78,.361,8.88,.521,8.98,.411,8.63,.47,8.83,.24,8.93,.595,9.03,.466,9.09,.378,9.15,.533,9.21,.421,9.27,.612,9.33,.297,9.39,.514,9.45,.398,9.51,.588,9.57,.455,9.06,.289,9.18,.587,9.3,.463,9.42,.245,9.54,.356,9.24,.689,9.48,.474,9.36,.411];
const normalSparseHigh = [1.25,1.60,0.84,1.547,0.78,1.532,0.96,1.43,0.74,1.39,4.44,1.543,0.01,1.262,-0.06,1.21,0.33,1.169,2.38,1.315,3.73,1.303,2.43,1.169,2.89,1.138,3.25,1.10,4.92,1.151,-0.26,1.06,0.74,1.08,0.54,1.071,0.99,1.065,1.13,1.048,1.45,1.042,1.81,1.034,3.6,1.042,3.96,1.034,4.5,.973,2.84,1.01,2.55,.993,0.54,1.03,0.17,1.01,0.17,.99,0.76,1.02,0.76,.99,3.88,.978,3.88,.942,3.88,.916,4.76,.904,4.7,.897,5.48,.958,5.44,.909,6.57,.89,8.27,.883,6.15,.861,4.22,.897,4.16,.883,4.59,.889,4.28,.865,4.48,.852,4.48,.836,4.66,.831,5.05,.83,5.74,.841,3.55,.873,3.68,.857,3.84,.875,3.89,.873,0.05,.958,-0.28,.94,-0.22,.929,0,.915,0.08,.918,-0.06,.886,-0.28,.878,-0.17,.871,0.44,.972,0.36,.947,0.54,.936,0.35,.92,0.44,.918,0.18,.897,0.41,.897,0.41,.889,0.11,.895,0.66,.968,0.68,.977,0.65,.945,0.77,.933,0.73,.911,0.75,.896,0.85,.944,0.97,.947,1.1,.974,1.12,.954,0.99,.91,1.1,.911,1.23,.918,1.34,.98,1.45,.931,1.63,.954,1.73,.941,1.79,.926,1.63,.898,1.24,.878,1.3,.871,1.93,.889,1.99,.868,2.15,.87,2.23,.879,2.34,.936,2.48,.928,2.41,.913,2.33,.908,2.33,.896,2.46,.882,2.61,.891,3.02,.88,3.15,.873,3.67,.857,3.85,.865];
const normalSparseLow = [3.09,.131,2.62,.13,6.01,.113,6.94,.14,7.37,.1,8.34,.144,9.27,.153,9.39,.153,5.35,.129,5.58,.124,5.79,.131,6.23,.135,6.37,.128,5.05,.126,0.64,.195,-0.4,.264,-0.37,.297,0.13,.262,1.34,.227,1.08,.247,4.86,.113,5.04,.124,4.41,.148,4.53,.141,4.04,.163,4.21,.157,3.54,.19,2.38,.183,2.34,.205,2.18,.195,2.07,.23];
const normalSparseRight = [10.75,.723,10.99,.659,10.64,.672,11.67,.59,11.51,.569,12.65,.591,12.69,.486,11.24,.527,11.09,.506,11.31,.48,11.44,.485,11.37,.457,11.31,.449,12.35,.447,12.54,.464,12.87,.468,12.99,.468,13.62,.482,13.57,.462,12.91,.415,12.53,.392,14.03,.378,11.5,.327,11.05,.286,12.3,.204,14.81,.196,11.04,.39,10.67,.312,10.67,.27,10.77,.268,10.43,.302,10.24,.327,10.75,.40,10.71,.394,10.21,.393,10.09,.402,9.97,.416,10.02,.418,10.96,.476,10.41,.474,10.69,.501,10.54,.49,10.57,.498,10.59,.494,10.8,.518,10.33,.491,10.09,.50,9.92,.499,10.16,.51,10.2,.52,10.22,.515,10.24,.513,10.25,.531,9.77,.534,9.66,.531,9.68,.489,9.76,.481,9.63,.46,9.78,.457,9.68,.439,9.79,.437,9.63,.403,9.62,.383,9.6,.35,9.83,.332,9.95,.333,10.0,.35,9.92,.308,9.74,.30,9.81,.292,9.66,.245,9.62,.22,9.84,.223,10.15,.236,10.18,.22,10.33,.22,10.03,.181,10.33,.168,9.6,.18,10.99,.593,11.04,.578,10.84,.555,10.95,.549,10.49,.563,10.67,.604,10.41,.585,10.31,.594,10.27,.586,10.18,.582,9.72,.55,9.85,.572,9.9,.607,9.95,.566,10.07,.555,9.64,.598,9.8,.588,10.38,.62,10.26,.639,10.09,.628,9.65,.649,9.61,.661,9.95,.686,9.65,.708,9.74,.71,9.78,.705,9.86,.709,10.02,.71,9.7,.515,9.88,.42,9.9,.38];

// Outlier points
const outlierPoints = [5.75,.078,6.37,.089];

// Trend line
const trendX = [-0.49,0.54,1.62,2.71,3.52,4.12,5.05,5.86,6.68,7.33,7.76,8.09,8.58,9.39,10.48,11.56,13.0,14.82];
const trendY = [0.626,0.569,0.521,0.477,0.448,0.433,0.424,0.411,0.399,0.394,0.397,0.402,0.407,0.416,0.432,0.448,0.472,0.497];

function pairs(a){const out=[];for(let i=0;i+1<a.length;i+=2)out.push([a[i],a[i+1]]);return out;}
const flat = arrs => [].concat(...arrs.map(pairs));
// groups by local density of the cloud (drawn with increasing dot size so overlaps read as solid)
const normalGroup1 = flat([normalBinA,normalBinB,normalBinC,normalBinD,normalBinE,normalBinF,normalBinG,normalBinH,normalBinI,normalBinJ,normalBinK,normalBinL,normalBinM,normalBinN,normalBinO,normalBinP,normalBinQ,normalBinR,normalBinS,normalBinT,normalExtraP,normalSparseHigh,normalSparseLow,normalSparseRight]);
const normalGroup2 = flat([normalExtraA,normalExtraB,normalExtraC,normalExtraD,normalExtraO]);
const normalGroup3 = flat([normalExtraE,normalExtraF,normalExtraG]);
const normalGroup4 = flat([normalExtraH,normalExtraN]);
const normalGroup5 = flat([normalExtraI,normalExtraJ,normalExtraK,normalExtraL,normalExtraM]);
const outlierData = pairs(outlierPoints);
const trendData = trendX.map((x,i)=>[x,trendY[i]]);

const FONT = 'Liberation Sans, Arial, Helvetica, sans-serif';
const FS = 25;
const normalSeries = (data, size) => ({name:'Normal',type:'scatter',data,symbol:'circle',symbolSize:size,itemStyle:{color:'#000',opacity:1},silent:true,z:2});
const chart = echarts.init(document.getElementById('c'), null, {renderer:'canvas'});
chart.setOption({
  animation:false,
  backgroundColor:'#fff',
  textStyle:{fontFamily:FONT},
  grid:{left:123,right:63,top:122,bottom:155,show:true,borderColor:'#222',borderWidth:1.2,backgroundColor:'transparent'},
  legend:{
    data:[{name:'Normal',icon:'circle'},{name:'Outlier',icon:'circle'}],
    orient:'vertical', right:63, top:122,
    borderColor:'#222', borderWidth:1.2, borderRadius:0,
    padding:[22,12,16,17], itemGap:3, itemWidth:26, itemHeight:10,
    textStyle:{fontSize:FS, color:'#000', fontFamily:FONT, padding:[0,0,0,5], lineHeight:25},
    selectedMode:false, backgroundColor:'#fff'
  },
  xAxis:{
    type:'value', min:-1.09, max:15.42,
    name:'Average log-expression', nameLocation:'middle', nameGap:97,
    nameTextStyle:{fontSize:FS,color:'#000',fontFamily:FONT},
    axisLine:{show:false,onZero:false},
    axisTick:{show:true,customValues:xTicks,length:15,lineStyle:{color:'#222',width:1.2}},
    axisLabel:{customValues:xTicks,fontSize:FS,color:'#000',margin:38,fontFamily:FONT},
    splitLine:{show:false}
  },
  yAxis:{
    type:'value', min:0.021, max:1.663,
    name:'sqrt(sigma)', nameLocation:'middle', nameGap:85, nameRotate:90,
    nameTextStyle:{fontSize:FS,color:'#000',fontFamily:FONT},
    axisLine:{show:false,onZero:false},
    axisTick:{show:true,customValues:yTicks,length:15,lineStyle:{color:'#222',width:1.2}},
    axisLabel:{customValues:yTicks,fontSize:FS,color:'#000',margin:29,rotate:90,fontFamily:FONT,formatter:v=>Number(v).toFixed(1)},
    splitLine:{show:false}
  },
  series:[
    normalSeries(normalGroup1, 3.5),
    normalSeries(normalGroup2, 4.3),
    normalSeries(normalGroup3, 5.0),
    normalSeries(normalGroup4, 5.8),
    normalSeries(normalGroup5, 6.5),
    {name:'Outlier',type:'scatter',data:outlierData,symbol:'circle',symbolSize:3.5,itemStyle:{color:'#ff0000',opacity:1},silent:true,z:3},
    {name:'trend',type:'line',data:trendData,showSymbol:false,smooth:0.5,lineStyle:{color:'#0000ff',width:1.4},itemStyle:{color:'#0000ff'},silent:true,z:4}
  ]
});
</script>
</body>
</html>
